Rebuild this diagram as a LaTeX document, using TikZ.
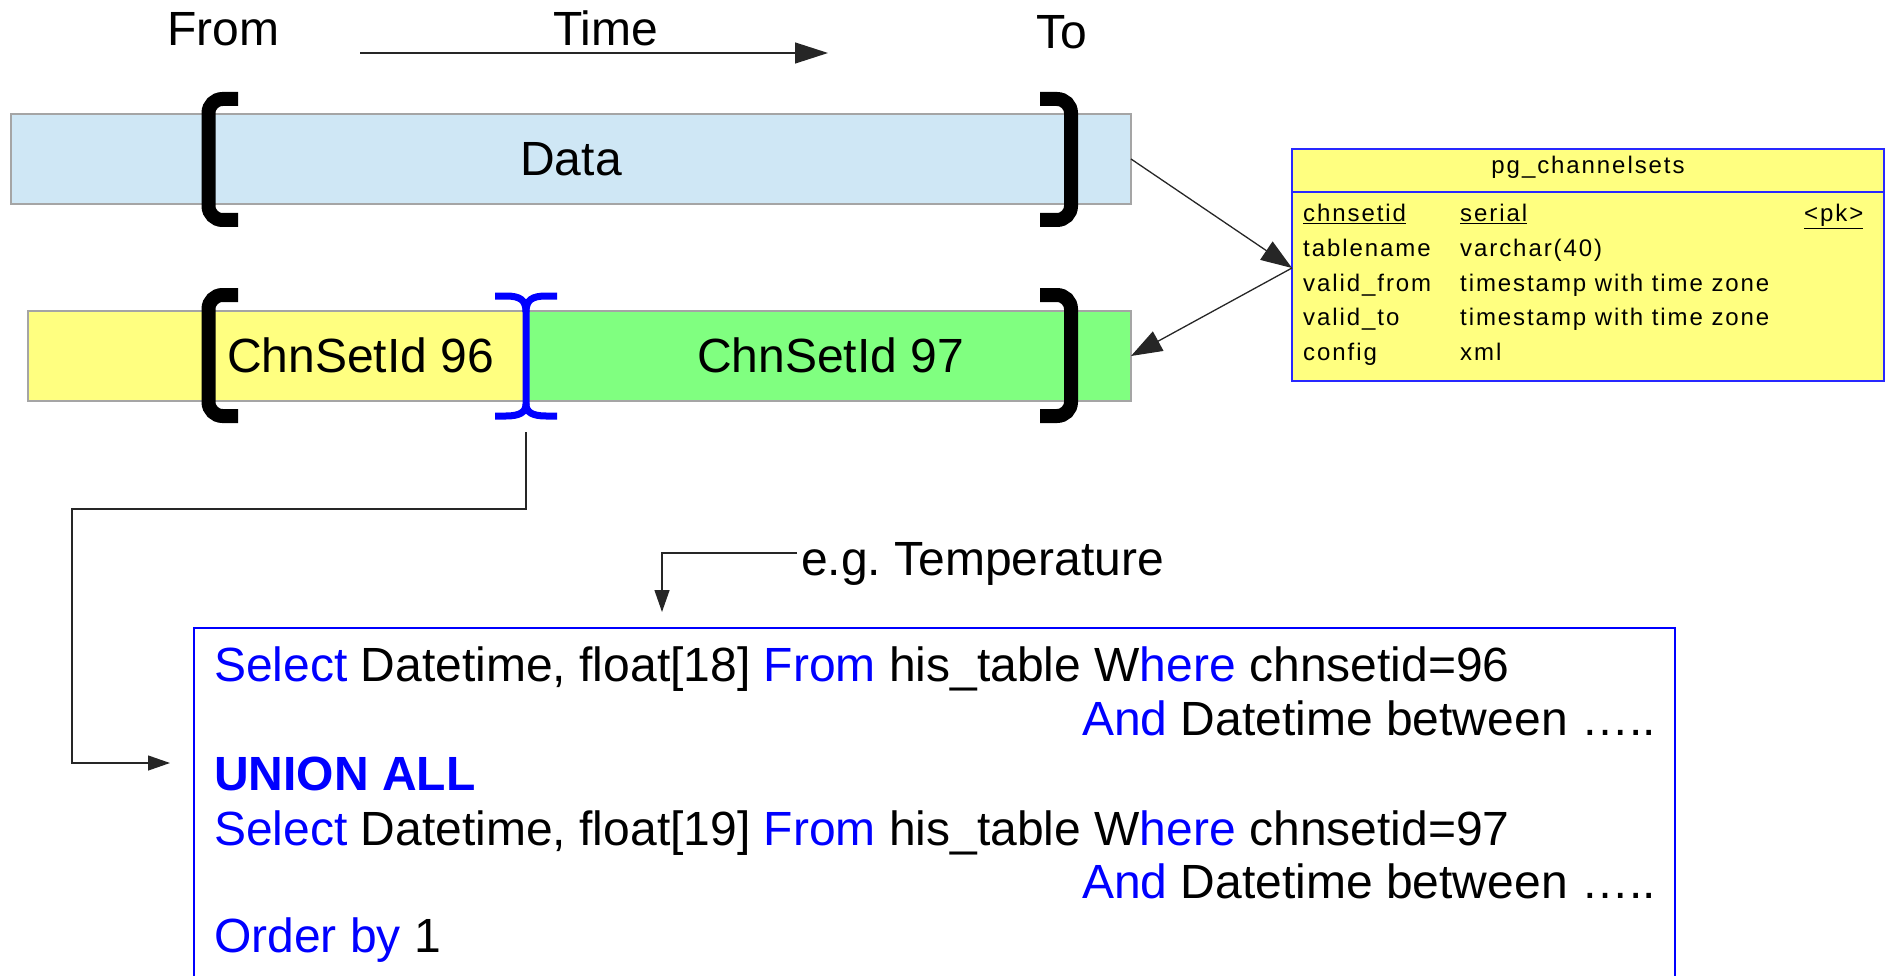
\documentclass[tikz,border=0pt]{standalone}
\usepackage{fontspec}
\setmainfont{Liberation Sans}
\newfontfamily\tabfont[LetterSpace=8]{Liberation Sans}
\usetikzlibrary{arrows.meta}
\definecolor{barblue}{RGB}{207,231,245}
\definecolor{baryellow}{RGB}{255,255,128}
\definecolor{bargreen}{RGB}{128,255,128}
\definecolor{kwblue}{RGB}{0,0,255}
\definecolor{edgegray}{RGB}{165,165,165}
\definecolor{tabedge}{RGB}{40,40,255}
\newcommand{\kw}[1]{\textcolor{kwblue}{#1}}
\begin{document}
\begin{tikzpicture}[x=1pt,y=-1pt,
  bar/.style={draw=edgegray, line width=1.5pt, inner sep=0pt, outer sep=0pt, anchor=north west},
  big/.style={font=\fontsize{48}{56}\selectfont, inner sep=0pt, anchor=base west},
  tabtext/.style={font=\tabfont\fontsize{24}{28}\selectfont, inner sep=0pt, anchor=base west},
  bracket/.style={line width=14pt, rounded corners=14pt},
  bluebracket/.style={draw=kwblue, line width=7pt},
  link/.style={draw=black!85, line width=1.3pt},
  bigtip/.style={-{Triangle[length=33pt,width=21pt]}},
  midtip/.style={-{Triangle[length=31pt,width=22pt]}},
  smalltip/.style={-{Triangle[length=22pt,width=15pt]}},
]
\useasboundingbox (0,0) rectangle (1886,976);

% time axis labels
\node[big] (from) at (167,46) {From};
\node[big] (time) at (553,46) {Time};
\node[big] (to) at (1036,49) {To};
\coordinate (t0) at (360,53);
\coordinate (t1) at (828,53);
\draw[link, bigtip] (t0) -- (t1);

% full data range
\node[bar, fill=barblue, minimum width=1120pt, minimum height=90pt,
      font=\fontsize{48}{56}\selectfont] (data) at (11,114) {Data};
\draw[bracket] (238,99) -- (208.5,99) -- (208.5,220) -- (238,220);
\draw[bracket] (1040,99) -- (1071,99) -- (1071,220) -- (1040,220);

% channel set split
\node[bar, fill=baryellow, minimum width=498pt, minimum height=90pt] (cs96) at (28,311) {};
\node[bar, fill=bargreen, minimum width=605pt, minimum height=90pt] (cs97) at (526,311) {};
\draw[bracket] (238,295) -- (208.5,295) -- (208.5,416) -- (238,416);
\draw[bracket] (1040,295) -- (1071,295) -- (1071,416) -- (1040,416);
\node[big] (t96) at (227,372) {ChnSetId 96};
\node[big] (t97) at (697,372) {ChnSetId 97};

% switch point between the two channel sets
\draw[bluebracket] (495,296) -- (506,296) .. controls (520,296) and (526,300) .. (526,312)
  -- (526,404) .. controls (526,412) and (520,416) .. (506,416) -- (495,416);
\draw[bluebracket] (557,296) -- (546,296) .. controls (532,296) and (526,300) .. (526,312);
\draw[bluebracket] (557,416) -- (546,416) .. controls (532,416) and (526,412) .. (526,404);
\coordinate (split) at (526,432);

% table definition
\node[draw=tabedge, line width=1.5pt, fill=baryellow, inner sep=0pt, outer sep=0pt,
      minimum width=592pt, minimum height=232pt, anchor=north west] (tab) at (1292,149) {};
\draw[draw=tabedge, line width=1.5pt] (1292,192) -- (1884,192);
\node[tabtext, anchor=base] (hd) at (1588,174) {pg\_channelsets};
\node[tabtext] (r1a) at (1303,222) {\underline{chnsetid}};
\node[tabtext] (r1b) at (1460,222) {\underline{serial}};
\node[tabtext] (r1c) at (1804,222) {\underline{<pk>}};
\node[tabtext] (r2a) at (1303,256.5) {tablename};
\node[tabtext] (r2b) at (1460,256.5) {varchar(40)};
\node[tabtext] (r3a) at (1303,291) {valid\_from};
\node[tabtext] (r3b) at (1460,291) {timestamp with time zone};
\node[tabtext] (r4a) at (1303,325.5) {valid\_to};
\node[tabtext] (r4b) at (1460,325.5) {timestamp with time zone};
\node[tabtext] (r5a) at (1303,360) {config};
\node[tabtext] (r5b) at (1460,360) {xml};

\coordinate (meet) at ([yshift=-3pt]tab.west);
\draw[link, midtip] (data.east) -- (meet);
\draw[link, midtip] (meet) -- (cs97.east);

% query
\node[draw=kwblue, line width=1.5pt, inner sep=0pt, outer sep=0pt,
      minimum width=1481pt, minimum height=380pt, anchor=north west] (sql) at (194,628) {};
\node[big] (l1) at (214,681) {\kw{Select} Datetime, float[18] \kw{From} his\_table W\kw{here} chnsetid=96};
\node[big, anchor=base east] (l2) at (1656,735) {\kw{And} Datetime between …..};
\node[big] (l3) at (214,790) {\textbf{\kw{UNION ALL}}};
\node[big] (l4) at (214,845) {\kw{Select} Datetime, float[19] \kw{From} his\_table W\kw{here} chnsetid=97};
\node[big, anchor=base east] (l5) at (1656,898) {\kw{And} Datetime between …..};
\node[big] (l6) at (214,952) {\kw{Order by} 1};

% connectors into the query
\coordinate (uin) at (170,763);
\draw[link, smalltip] (split) |- (72,509) |- (uin);

\node[big] (temp) at (801,575) {e.g.\ Temperature};
\coordinate (tstart) at (797,553);
\coordinate (tend) at (662,612);
\draw[link, smalltip] (tstart) -| (tend);
\end{tikzpicture}
\end{document}
